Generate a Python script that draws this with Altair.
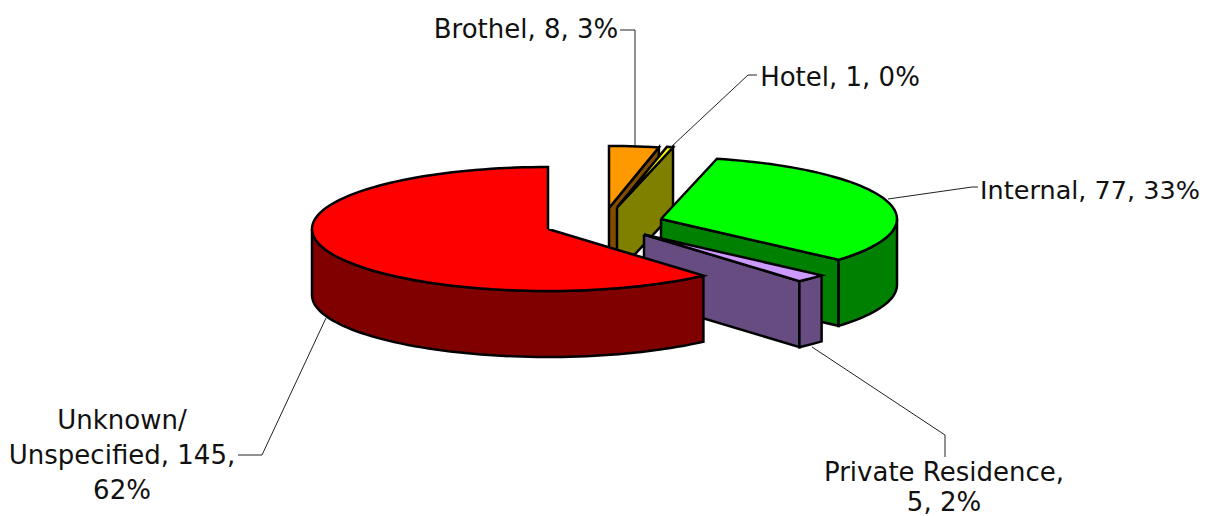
import math
import altair as alt
import pandas as pd

categories = ["Brothel", "Hotel", "Internal", "Private Residence", "Unknown/Unspecified"]
values = [8, 1, 77, 5, 145]
top_colors = ["#FF9900", "#FFFF00", "#00FF00", "#CC99FF", "#FF0000"]
side_colors = ["#804D00", "#808000", "#008000", "#664C80", "#800000"]
# pie geometry: apex of each exploded slice on the page, ellipse radii, depth
apexes = [(609, 208), (617, 207.5), (661, 219), (644, 234.5), (548, 229)]
RX, RY, DEPTH = 236, 62, 66
# which outer-rim angular range is visible for each slice (degrees clockwise from top)
rims = [None, None, (90, None), ("start", None), ("start", 270)]

label_lines = [
    ("Brothel, 8, 3%", 526, 30, 26), ("Hotel, 1, 0%", 840, 78, 26), ("Internal, 77, 33%", 1090, 191, 25.5),
    ("Private Residence,", 944, 473, 26), ("5, 2%", 944, 503, 26),
    ("Unknown/", 122, 421, 26), ("Unspecified, 145,", 122, 456, 26), ("62%", 122, 491, 26),
]
leaders = [
    [(620, 30), (635, 30), (635, 146)],
    [(671, 147), (748, 75), (757, 75)],
    [(888, 199), (972, 187), (978, 187)],
    [(812, 347), (945, 435), (945, 457)],
    [(326, 318), (262, 455), (238, 455)],
]

X = alt.X("x:Q", scale=alt.Scale(domain=[8, 1202]), axis=None)
Y = alt.Y("y:Q", scale=alt.Scale(domain=[516, 8]), axis=None)


def pt(apex, deg):
    t = math.radians(deg)
    return apex[0] + RX * math.sin(t), apex[1] - RY * math.cos(t)


def poly(points, fill):
    pts = list(points) + [points[0]]
    df = pd.DataFrame({"x": [p[0] for p in pts], "y": [p[1] for p in pts], "i": range(len(pts))})
    return alt.Chart(df).mark_line(
        fill=fill, stroke="black", strokeWidth=2.5, strokeJoin="miter", interpolate="linear"
    ).encode(x=X, y=Y, order="i:Q")


def arc(apex, a, b, dy=0):
    n = max(2, int(abs(b - a) / 2) + 1)
    out = []
    for k in range(n + 1):
        x, y = pt(apex, a + (b - a) * k / n)
        out.append((x, y + dy))
    return out


layers = []
total = sum(values)
cum = 0
for i, v in enumerate(values):
    start = cum / total * 360
    end = (cum + v) / total * 360
    cum += v
    apex = apexes[i]
    # cut face at the clockwise end of the slice (Unknown's faces away from the viewer)
    if i < 4:
        e = pt(apex, end)
        layers.append(poly([apex, e, (e[0], e[1] + DEPTH), (apex[0], apex[1] + DEPTH)], side_colors[i]))
    # outer rim
    if rims[i] is not None:
        a = start if rims[i][0] == "start" else rims[i][0]
        b = rims[i][1] if rims[i][1] is not None else end
        top = arc(apex, a, b)
        layers.append(poly(top + [(p[0], p[1] + DEPTH) for p in reversed(top)], side_colors[i]))
    # top face
    layers.append(poly([apex] + arc(apex, start, end), top_colors[i]))

for k, seg in enumerate(leaders):
    df = pd.DataFrame({"x": [p[0] for p in seg], "y": [p[1] for p in seg], "i": range(len(seg))})
    layers.append(alt.Chart(df).mark_line(color="#222222", strokeWidth=1).encode(x=X, y=Y, order="i:Q"))

text_df = pd.DataFrame(label_lines, columns=["t", "x", "y", "fs"])
layers.append(
    alt.Chart(text_df).mark_text(font="DejaVu Sans", color="#111111", align="center", baseline="middle")
    .encode(x=X, y=Y, text="t:N", size=alt.Size("fs:Q", scale=None, legend=None))
)

chart = alt.layer(*layers).properties(width=1194, height=508, padding=0, autosize=alt.AutoSizeParams(type="none")).configure_view(stroke=None)
chart.save("out.html", embed_options={"renderer": "svg", "actions": False})
